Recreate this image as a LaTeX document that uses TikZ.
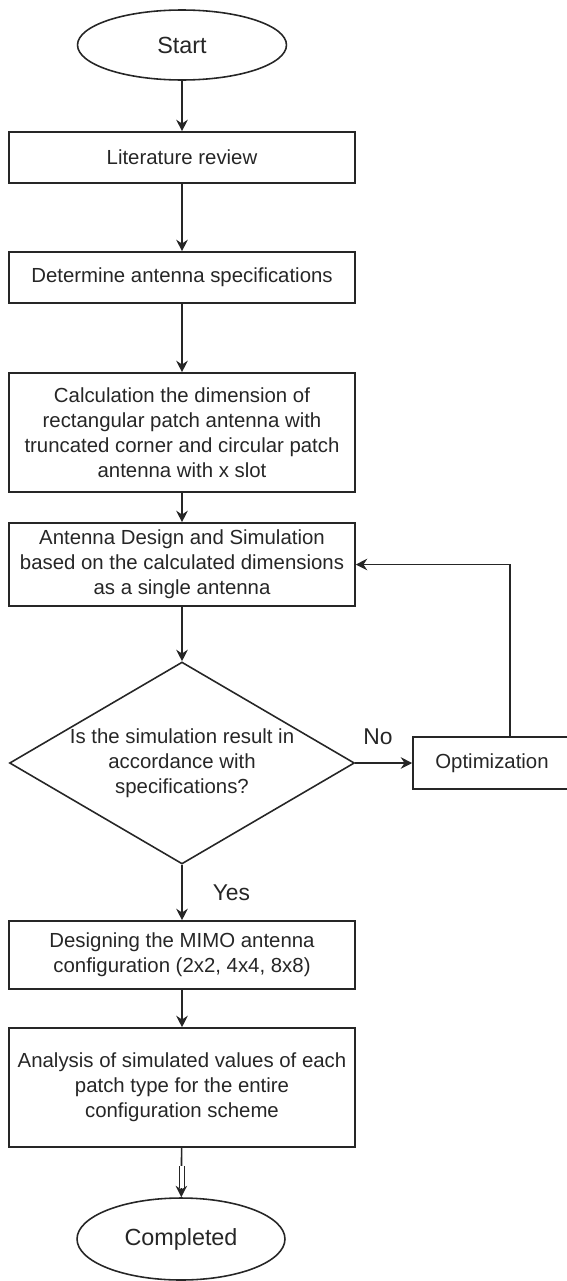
\documentclass[tikz,border=0pt]{standalone}
\usepackage{fontspec}
\setmainfont{Liberation Sans}
\usetikzlibrary{arrows.meta,shapes.geometric}

\begin{document}
\begin{tikzpicture}[x=0.02cm, y=-0.02cm, line width=0.9pt,
  >={Stealth[length=6.5pt,width=6.5pt]},
  procbox/.style={draw=black!85, rectangle, minimum width=6.92cm, inner sep=0pt,
    align=center, text=black!85, font=\fontsize{11.6}{14.2}\selectfont},
  termbox/.style={draw=black!85, ellipse, minimum width=4.18cm, minimum height=1.4cm,
    inner sep=0pt, text=black!85, font=\fontsize{13.3}{16}\selectfont},
  decidebox/.style={draw=black!85, diamond, aspect=1.7, minimum width=6.9cm,
    minimum height=4.04cm, inner sep=-1pt, align=center, text=black!85,
    font=\fontsize{11.6}{14.2}\selectfont},
  flow/.style={->, draw=black!85},
  lbl/.style={inner sep=0pt, text=black!85, font=\fontsize{13}{15}\selectfont}
]
\useasboundingbox (0,0) rectangle (566,1281);

% Main column
\node[termbox] (start) at (182,45) {Start};
\node[procbox, minimum height=1.02cm] (lit) at (182,157.5) {Literature review};
\node[procbox, minimum height=1.02cm] (spec) at (182,277.5) {Determine antenna specifications};
\node[procbox, minimum height=2.38cm] (calc) at (182,432.5)
  {Calculation the dimension of\\rectangular patch antenna with\\truncated corner and circular patch\\antenna with x slot};
\node[procbox, minimum height=1.66cm] (design) at (182,564.5)
  {Antenna Design and Simulation\\based on the calculated dimensions\\as a single antenna};
\node[decidebox] (check) at (182,763)
  {Is the simulation result in\\accordance with\\specifications?};
\node[procbox, minimum height=1.36cm] (mimo) at (182,955)
  {Designing the MIMO antenna\\configuration (2x2, 4x4, 8x8)};
\node[procbox, minimum height=2.38cm] (analysis) at (182,1087.5)
  {Analysis of simulated values of each\\patch type for the entire\\configuration scheme};
\node[termbox, minimum width=4.16cm, minimum height=1.64cm] (done) at (181,1239) {Completed};

% Side branch
\node[procbox, minimum width=3.16cm, minimum height=1.04cm] (opt) at (492,763) {Optimization};

% Connectors
\draw[flow] (start) -- (lit);
\draw[flow] (lit) -- (spec);
\draw[flow] (spec) -- (calc);
\draw[flow] (calc) -- (design);
\draw[flow] (design) -- (check);
\draw[flow] (check) -- node[lbl, pos=0.4, above=0.35cm] {No} (opt);
\draw[flow] ([xshift=0.36cm]opt.north) |- (design.east);
\draw[flow] (check) -- node[lbl, right=0.6cm] {Yes} (mimo);
\draw[flow] (mimo) -- (analysis);
\draw[flow] (analysis) -- (done);
\draw[draw=black!85, line width=0.5pt, double=white, double distance=2.2pt]
  ([yshift=-0.36cm]analysis.south) -- ([yshift=-0.8cm]analysis.south);
\end{tikzpicture}
\end{document}
